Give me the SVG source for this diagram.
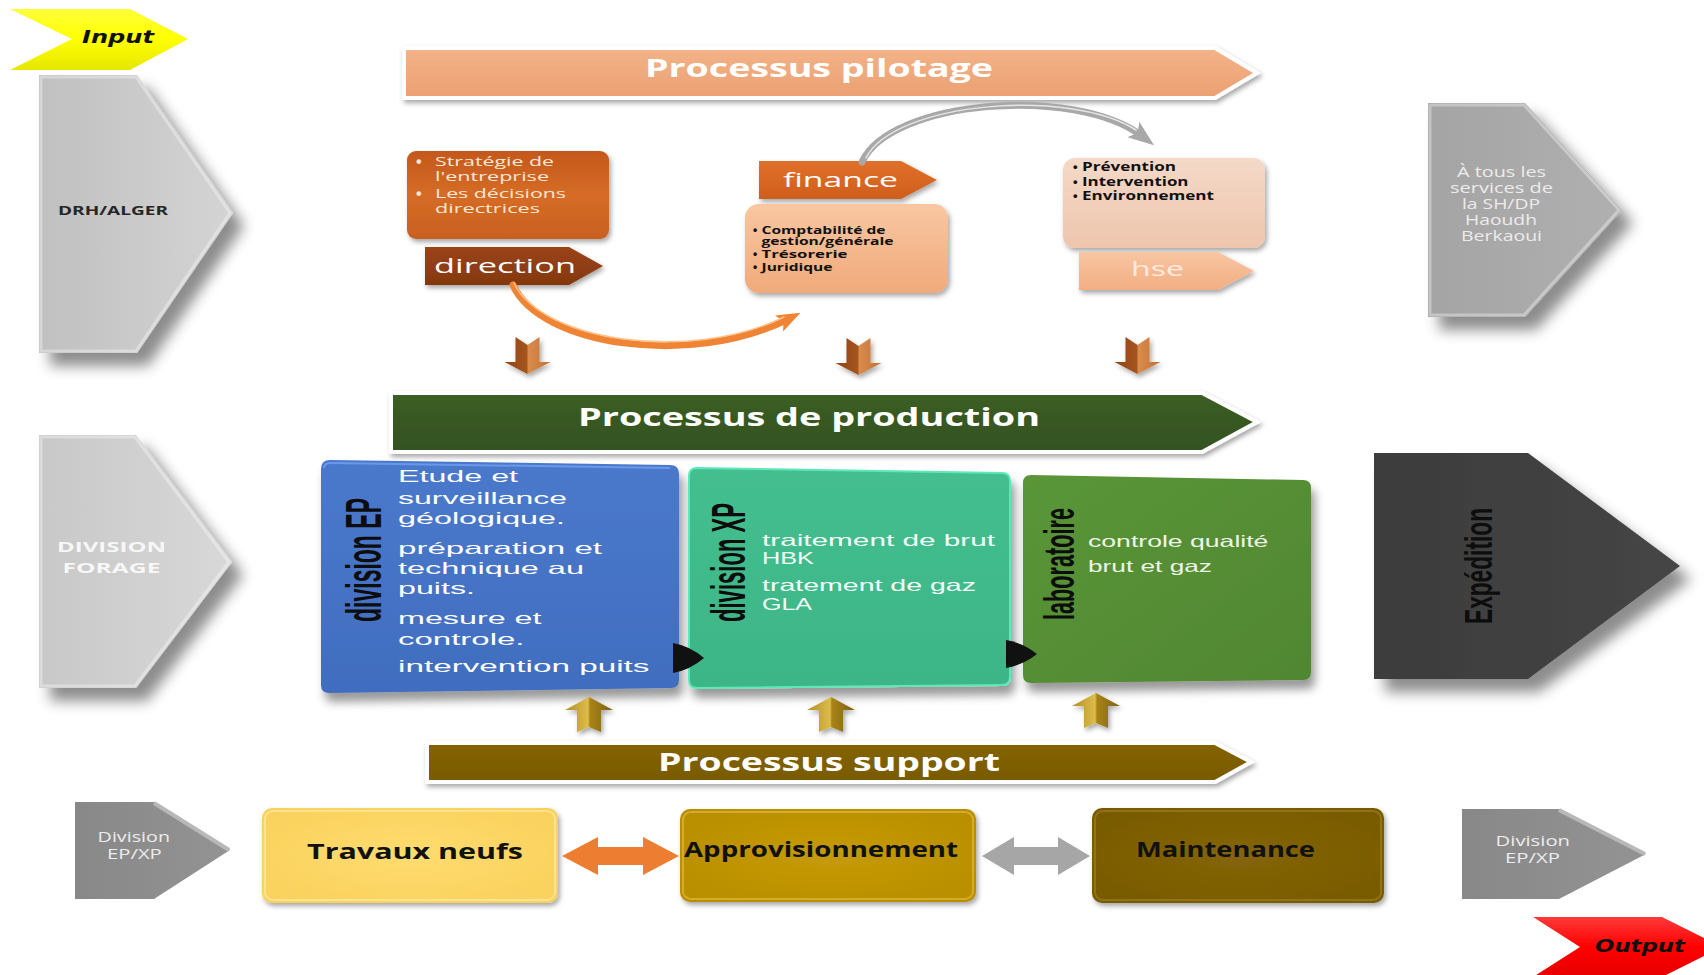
<svg xmlns="http://www.w3.org/2000/svg" width="1704" height="975" viewBox="0 0 1704 975">
  <defs>
    <style>
      .f { font-family: "Open Sans", "DejaVu Sans", sans-serif; }
      .b { font-weight: 700; }
      .dot { font-family: "Liberation Sans", Arial, sans-serif; font-weight: 700; }
      .it { font-family: "DejaVu Sans", sans-serif; font-weight: 700; font-style: italic; }
      .wh { fill: #ffffff; }
      .bk { fill: #111111; }
      .proc { font-size: 24.5px; font-weight: 700; fill: #ffffff; }
      .item { font-family: "Liberation Sans", Arial, sans-serif; font-size: 16.5px; }
      .sup { font-size: 20.5px; font-weight: 700; fill: #111111; }
      .gray-txt { font-size: 14.5px; fill: #ececec; }
      .vlab { font-family: "Liberation Sans", Arial, sans-serif; font-weight: 700; fill: #0d0d0d; }
      .band { stroke: #ffffff; stroke-width: 4; stroke-linejoin: miter; }
      .bevel { fill: none; stroke: #ffffff; stroke-opacity: 0.35; stroke-width: 3; }
    </style>
    <filter id="shBig" x="-20%" y="-20%" width="160%" height="160%">
      <feGaussianBlur in="SourceAlpha" stdDeviation="7"/>
      <feOffset dx="11" dy="13" result="blur"/>
      <feFlood flood-color="#000" flood-opacity="0.45"/>
      <feComposite in2="blur" operator="in"/>
      <feMerge><feMergeNode/><feMergeNode in="SourceGraphic"/></feMerge>
    </filter>
    <filter id="shBox" x="-10%" y="-10%" width="125%" height="130%">
      <feGaussianBlur in="SourceAlpha" stdDeviation="5"/>
      <feOffset dx="4" dy="9" result="blur"/>
      <feFlood flood-color="#000" flood-opacity="0.4"/>
      <feComposite in2="blur" operator="in"/>
      <feMerge><feMergeNode/><feMergeNode in="SourceGraphic"/></feMerge>
    </filter>
    <filter id="shSm" x="-10%" y="-20%" width="125%" height="150%">
      <feGaussianBlur in="SourceAlpha" stdDeviation="2.5"/>
      <feOffset dx="2" dy="3" result="blur"/>
      <feFlood flood-color="#000" flood-opacity="0.35"/>
      <feComposite in2="blur" operator="in"/>
      <feMerge><feMergeNode/><feMergeNode in="SourceGraphic"/></feMerge>
    </filter>

    <linearGradient id="gYellow" x1="0" y1="0" x2="0" y2="1">
      <stop offset="0" stop-color="#ffff3a"/><stop offset="0.5" stop-color="#ffff00"/><stop offset="1" stop-color="#e6e600"/>
    </linearGradient>
    <linearGradient id="gRed" x1="0" y1="0" x2="0" y2="1">
      <stop offset="0" stop-color="#ff3a3a"/><stop offset="0.5" stop-color="#ff0000"/><stop offset="1" stop-color="#e60000"/>
    </linearGradient>
    <linearGradient id="gLight" x1="0" y1="0" x2="1" y2="0">
      <stop offset="0" stop-color="#c0c0c0"/><stop offset="1" stop-color="#d4d4d4"/>
    </linearGradient>
    <linearGradient id="gLight2" x1="0" y1="0" x2="1" y2="0">
      <stop offset="0" stop-color="#c8c8c8"/><stop offset="1" stop-color="#d8d8d8"/>
    </linearGradient>
    <linearGradient id="gMid" x1="0" y1="0" x2="1" y2="0">
      <stop offset="0" stop-color="#a4a4a4"/><stop offset="1" stop-color="#b0b0b0"/>
    </linearGradient>
    <linearGradient id="gPil" x1="0" y1="0" x2="0" y2="1">
      <stop offset="0" stop-color="#f3b388"/><stop offset="1" stop-color="#eba072"/>
    </linearGradient>
    <linearGradient id="gProd" x1="0" y1="0" x2="0" y2="1">
      <stop offset="0" stop-color="#3b5e25"/><stop offset="1" stop-color="#345220"/>
    </linearGradient>
    <linearGradient id="gSup" x1="0" y1="0" x2="0" y2="1">
      <stop offset="0" stop-color="#846406"/><stop offset="1" stop-color="#785a00"/>
    </linearGradient>
    <linearGradient id="gStrat" x1="0" y1="0" x2="0" y2="1">
      <stop offset="0" stop-color="#c4581c"/><stop offset="0.5" stop-color="#d56c26"/><stop offset="1" stop-color="#c8601f"/>
    </linearGradient>
    <linearGradient id="gDir" x1="0" y1="0" x2="0" y2="1">
      <stop offset="0" stop-color="#9a4416"/><stop offset="1" stop-color="#843810"/>
    </linearGradient>
    <linearGradient id="gFin" x1="0" y1="0" x2="0" y2="1">
      <stop offset="0" stop-color="#e0702a"/><stop offset="1" stop-color="#cf5e1c"/>
    </linearGradient>
    <linearGradient id="gFinBox" x1="0" y1="0" x2="0" y2="1">
      <stop offset="0" stop-color="#f8c7a2"/><stop offset="1" stop-color="#f1aa7a"/>
    </linearGradient>
    <linearGradient id="gHseBox" x1="0" y1="0" x2="0" y2="1">
      <stop offset="0" stop-color="#f4d9c8"/><stop offset="1" stop-color="#eec6ad"/>
    </linearGradient>
    <linearGradient id="gHse" x1="0" y1="0" x2="0" y2="1">
      <stop offset="0" stop-color="#f8c6a2"/><stop offset="1" stop-color="#f2ae82"/>
    </linearGradient>
    <linearGradient id="gEP" x1="0" y1="0" x2="0" y2="1">
      <stop offset="0" stop-color="#4a79cc"/><stop offset="1" stop-color="#416dbf"/>
    </linearGradient>
    <linearGradient id="gXP" x1="0" y1="0" x2="0" y2="1">
      <stop offset="0" stop-color="#44bf8f"/><stop offset="1" stop-color="#3db587"/>
    </linearGradient>
    <linearGradient id="gLab" x1="0" y1="0" x2="1" y2="1">
      <stop offset="0" stop-color="#5a9638"/><stop offset="1" stop-color="#508632"/>
    </linearGradient>
    <linearGradient id="gExp" x1="0" y1="0" x2="1" y2="0">
      <stop offset="0" stop-color="#3c3c3c"/><stop offset="1" stop-color="#454545"/>
    </linearGradient>
    <linearGradient id="gDiv" x1="0" y1="0" x2="1" y2="0">
      <stop offset="0" stop-color="#888888"/><stop offset="1" stop-color="#939393"/>
    </linearGradient>
    <radialGradient id="gTrav" cx="0.5" cy="0.5" r="0.7">
      <stop offset="0" stop-color="#ffdc70"/><stop offset="1" stop-color="#f9d05a"/>
    </radialGradient>
    <radialGradient id="gAppro" cx="0.5" cy="0.5" r="0.7">
      <stop offset="0" stop-color="#c59a08"/><stop offset="1" stop-color="#b88d00"/>
    </radialGradient>
    <radialGradient id="gMaint" cx="0.5" cy="0.5" r="0.7">
      <stop offset="0" stop-color="#846508"/><stop offset="1" stop-color="#775900"/>
    </radialGradient>
    <linearGradient id="gDown" x1="0" y1="0" x2="1" y2="0">
      <stop offset="0" stop-color="#8f4414"/><stop offset="0.48" stop-color="#a4541e"/>
      <stop offset="0.52" stop-color="#d98c4c"/><stop offset="1" stop-color="#c27036"/>
    </linearGradient>
    <linearGradient id="gUp" x1="0" y1="0" x2="1" y2="0">
      <stop offset="0" stop-color="#b48e22"/><stop offset="0.48" stop-color="#dcbc4c"/>
      <stop offset="0.52" stop-color="#a88418"/><stop offset="1" stop-color="#7e6010"/>
    </linearGradient>

    <marker id="headGray" markerUnits="userSpaceOnUse" markerWidth="26" markerHeight="22" viewBox="0 0 24 20" refX="10" refY="10" orient="auto">
      <path d="M0,1 L24,10 L0,19 L5,10 Z" fill="#a8a8a8"/>
    </marker>
    <marker id="headOrange" markerUnits="userSpaceOnUse" markerWidth="24" markerHeight="20" viewBox="0 0 24 20" refX="10" refY="10" orient="auto">
      <path d="M0,1 L24,10 L0,19 L5,10 Z" fill="#ef8434"/>
    </marker>

    <path id="downArrow" d="M-12,0 L0,8 L12,0 L12,25 L23,25 L0,37 L-23,25 L-12,25 Z"/>
    <path id="upArrow" d="M0,0 L24,13 L12,13 L12,35 L0,30 L-12,35 L-12,13 L-24,13 Z"/>
  </defs>

  <rect width="1704" height="975" fill="#ffffff"/>

  <!-- input / output flags -->
  <g id="input">
    <polygon points="10,9 130,9 188,39 130,70 10,70 72,39" fill="url(#gYellow)"/>
    <text class="it bk" x="82" y="43" font-size="18" textLength="72" lengthAdjust="spacingAndGlyphs">Input</text>
  </g>
  <g id="output">
    <polygon points="1533,917 1662,917 1722,947 1662,977 1533,977 1580,947" fill="url(#gRed)"/>
    <text class="it bk" x="1595" y="952" font-size="18" textLength="90" lengthAdjust="spacingAndGlyphs">Output</text>
  </g>

  <!-- side sources and destinations -->
  <g id="drh-alger">
    <polygon points="39,75 137,75 233,213 137,353 39,353" fill="url(#gLight)" filter="url(#shBig)"/>
    <polygon class="bevel" points="41,77 136,77 230,213 136,351 41,351"/>
    <text class="f b" x="58" y="215" font-size="12.5" fill="#262626" textLength="110" lengthAdjust="spacingAndGlyphs">DRH/ALGER</text>
  </g>
  <g id="division-forage">
    <polygon points="39,435 136,435 232,562 136,688 39,688" fill="url(#gLight2)" filter="url(#shBig)"/>
    <polygon class="bevel" points="41,437 135,437 229,562 135,686 41,686"/>
    <text class="f b" x="57" y="552" font-size="14.5" fill="#f7f7f7" textLength="109" lengthAdjust="spacingAndGlyphs">DIVISION</text>
    <text class="f b" x="62.5" y="573" font-size="14.5" fill="#f7f7f7" textLength="98" lengthAdjust="spacingAndGlyphs">FORAGE</text>
  </g>
  <g id="services-sh-dp">
    <polygon points="1428,103 1525,103 1622,210 1525,317 1428,317" fill="url(#gMid)" filter="url(#shBig)"/>
    <polygon class="bevel" points="1430,105 1524,105 1619,210 1524,315 1430,315"/>
    <g class="f gray-txt" text-anchor="middle">
      <text x="1501.5" y="177" textLength="89" lengthAdjust="spacingAndGlyphs">À tous les</text>
      <text x="1501.5" y="193" textLength="103" lengthAdjust="spacingAndGlyphs">services de</text>
      <text x="1501" y="209" textLength="78" lengthAdjust="spacingAndGlyphs">la SH/DP</text>
      <text x="1501" y="225" textLength="72" lengthAdjust="spacingAndGlyphs">Haoudh</text>
      <text x="1501.5" y="241" textLength="81" lengthAdjust="spacingAndGlyphs">Berkaoui</text>
    </g>
  </g>
  <g id="expedition">
    <polygon points="1374,453 1528,453 1680,566 1528,679 1374,679" fill="url(#gExp)" filter="url(#shBig)"/>
    <text class="vlab" font-size="22.4" textLength="116" lengthAdjust="spacingAndGlyphs" transform="translate(1492,624) scale(1.75,1) rotate(-90)">Expédition</text>
  </g>
  <g id="division-epxp-in">
    <polygon points="75,802 154,802 230,850 154,899 75,899" fill="url(#gDiv)"/>
    <polyline points="154,803 229,850" fill="none" stroke="#b8b8b8" stroke-width="4"/>
    <text class="f gray-txt" x="97.6" y="842" textLength="72.4" lengthAdjust="spacingAndGlyphs">Division</text>
    <text class="f gray-txt" x="107" y="859" textLength="54.8" lengthAdjust="spacingAndGlyphs">EP/XP</text>
  </g>
  <g id="division-epxp-out">
    <polygon points="1462,809 1559,809 1646,854 1559,899 1462,899" fill="url(#gDiv)"/>
    <polyline points="1559,810 1645,854" fill="none" stroke="#b8b8b8" stroke-width="4"/>
    <text class="f gray-txt" x="1495.6" y="846" textLength="74.4" lengthAdjust="spacingAndGlyphs">Division</text>
    <text class="f gray-txt" x="1505" y="863" textLength="55" lengthAdjust="spacingAndGlyphs">EP/XP</text>
  </g>

  <!-- pilotage processes -->
  <g id="processus-pilotage">
    <polygon class="band" points="404,48 1215,48 1257,73 1215,98 404,98" fill="url(#gPil)" filter="url(#shSm)"/>
    <text class="f proc" x="645" y="77" textLength="348" lengthAdjust="spacingAndGlyphs">Processus pilotage</text>
  </g>
  <g id="strategie">
    <rect x="407" y="151" width="202" height="88" rx="9" fill="url(#gStrat)" filter="url(#shSm)"/>
    <g class="f" font-size="13.5" fill="#fde7d6">
      <text class="dot" x="416" y="167" font-size="16">•</text>
      <text x="435" y="166" textLength="119" lengthAdjust="spacingAndGlyphs">Stratégie de</text>
      <text x="435" y="181" textLength="114" lengthAdjust="spacingAndGlyphs">l'entreprise</text>
      <text class="dot" x="416" y="199" font-size="16">•</text>
      <text x="435" y="198" textLength="131" lengthAdjust="spacingAndGlyphs">Les décisions</text>
      <text x="435" y="213" textLength="105" lengthAdjust="spacingAndGlyphs">directrices</text>
    </g>
  </g>
  <g id="direction">
    <polygon points="425,247 569,247 603,266 569,285 425,285" fill="url(#gDir)" filter="url(#shSm)"/>
    <text class="f wh" x="434" y="273" font-size="20.5" textLength="142" lengthAdjust="spacingAndGlyphs">direction</text>
  </g>
  <g id="finance">
    <polygon points="759,161 901,161 937,180 901,199 759,199" fill="url(#gFin)" filter="url(#shSm)"/>
    <text class="f wh" x="783" y="187" font-size="20.5" textLength="115" lengthAdjust="spacingAndGlyphs">finance</text>
  </g>
  <g id="finance-detail">
    <rect x="745" y="204" width="203" height="89" rx="14" fill="url(#gFinBox)" filter="url(#shSm)"/>
    <g class="f b bk" font-size="10.5">
      <text class="dot" x="753" y="234" font-size="12">•</text>
      <text x="761.5" y="234" textLength="124" lengthAdjust="spacingAndGlyphs">Comptabilité de</text>
      <text x="761.5" y="245" textLength="132" lengthAdjust="spacingAndGlyphs">gestion/générale</text>
      <text class="dot" x="753" y="258" font-size="12">•</text>
      <text x="761.5" y="258" textLength="86" lengthAdjust="spacingAndGlyphs">Trésorerie</text>
      <text class="dot" x="753" y="271" font-size="12">•</text>
      <text x="761.5" y="271" textLength="71" lengthAdjust="spacingAndGlyphs">Juridique</text>
    </g>
  </g>
  <g id="hse-detail">
    <rect x="1063" y="158" width="202" height="90" rx="12" fill="url(#gHseBox)" filter="url(#shSm)"/>
    <g class="f b bk" font-size="12">
      <text class="dot" x="1073" y="171" font-size="13">•</text>
      <text x="1082" y="171" textLength="94" lengthAdjust="spacingAndGlyphs">Prévention</text>
      <text class="dot" x="1073" y="185.5" font-size="13">•</text>
      <text x="1082" y="185.5" textLength="106.5" lengthAdjust="spacingAndGlyphs">Intervention</text>
      <text class="dot" x="1073" y="200" font-size="13">•</text>
      <text x="1082" y="200" textLength="132" lengthAdjust="spacingAndGlyphs">Environnement</text>
    </g>
  </g>
  <g id="hse">
    <polygon points="1079,252 1218,252 1254,271 1218,290 1079,290" fill="url(#gHse)" filter="url(#shSm)"/>
    <text class="f" x="1131" y="276" font-size="19.5" fill="#fdebe0" textLength="53" lengthAdjust="spacingAndGlyphs">hse</text>
  </g>

  <!-- production processes -->
  <g id="processus-production">
    <polygon class="band" points="391,393 1202,393 1257,422 1202,452 391,452" fill="url(#gProd)" filter="url(#shSm)"/>
    <text class="f proc" x="578" y="426" textLength="462" lengthAdjust="spacingAndGlyphs">Processus de production</text>
  </g>
  <g id="division-ep">
    <path d="M330,460 L670,465 Q679,465 679,474 L679,680 Q679,688 671,688 L329,693 Q321,693 321,685 L321,469 Q321,460 330,460 Z" fill="url(#gEP)" filter="url(#shBox)"/>
    <path d="M324,468 Q324,463 331,463 L670,468" fill="none" stroke="#6b98e8" stroke-width="2"/>
    <text class="vlab" font-size="29" textLength="124" lengthAdjust="spacingAndGlyphs" transform="translate(381,622) scale(1.75,1) rotate(-90)">division EP</text>
    <g class="item wh">
      <text x="398" y="482" textLength="120" lengthAdjust="spacingAndGlyphs">Etude et</text>
      <text x="398" y="503.5" textLength="169" lengthAdjust="spacingAndGlyphs">surveillance</text>
      <text x="398" y="523.5" textLength="167" lengthAdjust="spacingAndGlyphs">géologique.</text>
      <text x="398" y="553.5" textLength="204" lengthAdjust="spacingAndGlyphs">préparation et</text>
      <text x="398" y="574" textLength="186" lengthAdjust="spacingAndGlyphs">technique au</text>
      <text x="398" y="594" textLength="77" lengthAdjust="spacingAndGlyphs">puits.</text>
      <text x="398" y="623.5" textLength="143.5" lengthAdjust="spacingAndGlyphs">mesure et</text>
      <text x="398" y="644.5" textLength="126.5" lengthAdjust="spacingAndGlyphs">controle.</text>
      <text x="398" y="672" textLength="251.5" lengthAdjust="spacingAndGlyphs">intervention puits</text>
    </g>
  </g>
  <g id="division-xp">
    <path d="M697,468 L1002,473 Q1010,473 1010,481 L1010,677 Q1010,685 1002,685 L697,688 Q689,688 689,680 L689,476 Q689,468 697,468 Z" fill="url(#gXP)" stroke="#5ce8b8" stroke-width="2" filter="url(#shBox)"/>
    <text class="vlab" font-size="27.5" textLength="119" lengthAdjust="spacingAndGlyphs" transform="translate(745,622) scale(1.75,1) rotate(-90)">division XP</text>
    <g class="item" fill="#f4fffa">
      <text x="762" y="545.5" textLength="233" lengthAdjust="spacingAndGlyphs">traitement de brut</text>
      <text x="762" y="564" textLength="52" lengthAdjust="spacingAndGlyphs">HBK</text>
      <text x="762" y="591" textLength="214" lengthAdjust="spacingAndGlyphs">tratement de gaz</text>
      <text x="762" y="610" textLength="50" lengthAdjust="spacingAndGlyphs">GLA</text>
    </g>
  </g>
  <g id="laboratoire">
    <path d="M1031,475 L1303,480 Q1311,480 1311,488 L1311,672 Q1311,680 1303,680 L1031,683 Q1023,683 1023,675 L1023,483 Q1023,475 1031,475 Z" fill="url(#gLab)" filter="url(#shBox)"/>
    <text class="vlab" font-size="24.5" textLength="112" lengthAdjust="spacingAndGlyphs" transform="translate(1074,620) scale(1.75,1) rotate(-90)">laboratoire</text>
    <g class="item" fill="#eef4e8">
      <text x="1088" y="547" textLength="180.4" lengthAdjust="spacingAndGlyphs">controle qualité</text>
      <text x="1088" y="572" textLength="124" lengthAdjust="spacingAndGlyphs">brut et gaz</text>
    </g>
  </g>

  <!-- support processes -->
  <g id="processus-support">
    <polygon class="band" points="427,743 1215,743 1251,762 1215,782 427,782" fill="url(#gSup)" filter="url(#shSm)"/>
    <text class="f proc" x="658" y="771" textLength="342" lengthAdjust="spacingAndGlyphs">Processus support</text>
  </g>
  <g id="travaux-neufs">
    <rect x="262" y="808" width="296" height="95" rx="10" fill="url(#gTrav)" filter="url(#shSm)"/>
    <rect x="265" y="811" width="290" height="89" rx="8" fill="none" stroke="#fff0b0" stroke-opacity="0.6" stroke-width="2"/>
    <text class="f sup" x="307" y="859" textLength="216" lengthAdjust="spacingAndGlyphs">Travaux neufs</text>
  </g>
  <g id="approvisionnement">
    <rect x="680" y="809" width="296" height="93" rx="10" fill="url(#gAppro)" filter="url(#shSm)"/>
    <rect x="683" y="812" width="290" height="87" rx="8" fill="none" stroke="#e8c040" stroke-opacity="0.6" stroke-width="2"/>
    <text class="f sup" x="684" y="857" textLength="274" lengthAdjust="spacingAndGlyphs">Approvisionnement</text>
  </g>
  <g id="maintenance">
    <rect x="1092" y="808" width="292" height="95" rx="10" fill="url(#gMaint)" filter="url(#shSm)"/>
    <rect x="1095" y="811" width="286" height="89" rx="8" fill="none" stroke="#a08420" stroke-opacity="0.6" stroke-width="2"/>
    <text class="f sup" x="1136" y="857" textLength="179" lengthAdjust="spacingAndGlyphs">Maintenance</text>
  </g>

  <!-- connectors -->
  <g id="connectors">
    <path d="M862,162 C890,100 1075,85 1142,136" fill="none" stroke="#a8a8a8" stroke-width="7" stroke-linecap="round" marker-end="url(#headGray)"/>
    <path d="M866,158 C895,101 1072,88 1136,130" fill="none" stroke="#e6e6e6" stroke-width="1.5" stroke-linecap="round"/>
    <path d="M513,285 C540,345 690,368 788,319" fill="none" stroke="#ef8434" stroke-width="7" stroke-linecap="round" marker-end="url(#headOrange)"/>
    <path d="M514,283 C541,341 690,363 784,317" fill="none" stroke="#ffc48e" stroke-width="1.5" stroke-linecap="round"/>

    <use href="#downArrow" x="527.5" y="337" fill="url(#gDown)" filter="url(#shSm)"/>
    <use href="#downArrow" x="858.5" y="338" fill="url(#gDown)" filter="url(#shSm)"/>
    <use href="#downArrow" x="1137.5" y="337" fill="url(#gDown)" filter="url(#shSm)"/>

    <path d="M673,643 Q690,646 704,658 Q690,670 673,673 Z" fill="#111111"/>
    <path d="M1006,640 Q1023,643 1037,654 Q1023,665 1006,668 Z" fill="#111111"/>

    <use href="#upArrow" x="589" y="697" fill="url(#gUp)" filter="url(#shSm)"/>
    <use href="#upArrow" x="831" y="697" fill="url(#gUp)" filter="url(#shSm)"/>
    <use href="#upArrow" x="1096" y="693" fill="url(#gUp)" filter="url(#shSm)"/>

    <polygon points="562,856 598,837 598,847 643,847 643,837 679,856 643,875 643,865 598,865 598,875" fill="#ed7d31"/>
    <polygon points="982,856 1014,837 1014,847 1058,847 1058,837 1090,856 1058,875 1058,865 1014,865 1014,875" fill="#a6a6a6"/>
  </g>
</svg>
